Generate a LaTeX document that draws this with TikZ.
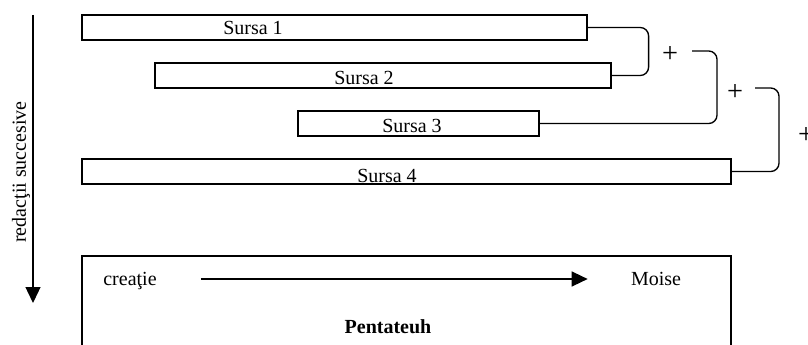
\documentclass[tikz,border=0pt]{standalone}
\usepackage{fontspec}
\setmainfont{Liberation Serif}
\usetikzlibrary{arrows.meta, positioning, calc}

\begin{document}
\begin{tikzpicture}[
    x=0.6pt, y=-0.6pt,
    font=\fontsize{12}{14}\selectfont,
    src/.style={rectangle, draw, line width=0.7pt, minimum height=15pt, inner sep=0pt},
    lbl/.style={anchor=base, inner sep=0pt},
    merge/.style={draw, line width=0.8pt, rounded corners=5pt},
    plus/.style={inner sep=0pt, font=\fontsize{17}{17}\selectfont},
    flow/.style={-{Triangle[length=9.6pt, width=9pt]}, line width=0.8pt}
]
    \clip (0,0) rectangle (808,344);

    % Surse
    \node[src, minimum width=303pt] (s1) at (334.5,27.5) {};
    \node[src, minimum width=273.6pt] (s2) at (383,75.5) {};
    \node[src, minimum width=144.6pt] (s3) at (418.5,123.5) {};
    \node[src, minimum width=389.4pt] (s4) at (406.5,171.5) {};
    \node[lbl] (l1) at (253,35) {Sursa 1};
    \node[lbl] (l2) at (364,84) {Sursa 2};
    \node[lbl] (l3) at (412,132) {Sursa 3};
    \node[lbl] (l4) at (387,182) {Sursa 4};

    % Combinari
    \coordinate (j2) at (692,51);
    \coordinate (j3) at (755,88);
    \draw[merge] (s1.east) -| ($(s1.east)+(61,24)$) |- (s2.east);
    \draw[merge] (j2) -| ($(j2)+(25,36)$) |- (s3.east);
    \draw[merge] (j3) -| ($(j3)+(24,40)$) |- (s4.east);
    \node[plus] (p1) at (670,54) {+};
    \node[plus] (p2) at (735,92) {+};
    \node[plus] (p3) at (806,135) {+};

    % Axa redactiilor
    \coordinate (t0) at (33,15);
    \coordinate (t1) at (33,303);
    \draw[flow] (t0) -- (t1);
    \node[rotate=90, inner sep=0pt] (ax) at (21,172) {redacţii succesive};

    % Pentateuh
    \node[rectangle, draw, line width=1.1pt, minimum width=389.4pt, minimum height=55.2pt, inner sep=0pt] (penta) at (406.5,302) {};
    \node[lbl] (creatie) at (130,285) {creaţie};
    \node[lbl] (moise) at (656,285) {Moise};
    \node[lbl, font=\fontsize{12}{14}\selectfont\bfseries] (title) at (388,333) {Pentateuh};
    \draw[flow] ($(creatie.base east)+(44,-6)$) -- ($(moise.base west)+(-43,-6)$);
\end{tikzpicture}
\end{document}
